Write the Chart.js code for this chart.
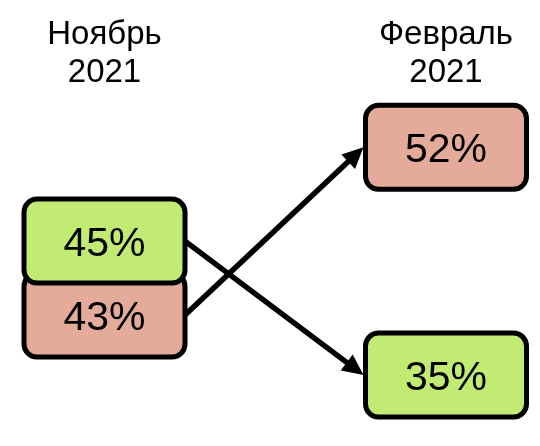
<!DOCTYPE html>
<html>
<head>
<meta charset="utf-8">
<script src="https://cdn.jsdelivr.net/npm/chart.js@4.4.1/dist/chart.umd.min.js"></script>
<style>
  html, body { margin: 0; padding: 0; background: #fff; }
  #wrap { width: 540px; height: 446px; }
</style>
</head>
<body>
<div id="wrap"><canvas id="chart"></canvas></div>
<script>
// --- DATA ---
const periods = [['Ноябрь', '2021'], ['Февраль', '2021']];
const pinkValues = [43, 52];
const greenValues = [45, 35];

const pinkColor = '#E4AB9A';
const greenColor = '#C2EB73';

const BOX_W = 161;
const BOX_H = 84;
const MIN_GAP = 74;   // boxes in one column may overlap a little, not more

function drawArrow(ctx, x1, y1, x2, y2) {
    const ang = Math.atan2(y2 - y1, x2 - x1);
    const headLen = 21, headHalf = 10;
    ctx.save();
    ctx.strokeStyle = '#000';
    ctx.fillStyle = '#000';
    ctx.lineWidth = 5.5;
    ctx.beginPath();
    ctx.moveTo(x1, y1);
    ctx.lineTo(x2 - Math.cos(ang) * (headLen - 2), y2 - Math.sin(ang) * (headLen - 2));
    ctx.stroke();
    ctx.beginPath();
    ctx.moveTo(x2, y2);
    ctx.lineTo(x2 - headLen * Math.cos(ang) + headHalf * Math.sin(ang),
               y2 - headLen * Math.sin(ang) - headHalf * Math.cos(ang));
    ctx.lineTo(x2 - headLen * Math.cos(ang) - headHalf * Math.sin(ang),
               y2 - headLen * Math.sin(ang) + headHalf * Math.cos(ang));
    ctx.closePath();
    ctx.fill();
    ctx.restore();
}

const boxPlugin = {
    id: 'boxes',
    afterDatasetsDraw(chart) {
        const ctx = chart.ctx;
        const boxes = [];
        chart.data.datasets.forEach((ds, di) => {
            chart.getDatasetMeta(di).data.forEach((pt, i) => {
                boxes.push({ x: pt.x, y: pt.y, col: i, ds: di, value: ds.data[i], color: ds.backgroundColor });
            });
        });

        // empurra para baixo as caixas que se sobrepõem na mesma coluna
        periods.forEach((p, col) => {
            const inCol = boxes.filter(b => b.col === col).sort((a, b) => a.y - b.y);
            for (let k = 1; k < inCol.length; k++) {
                if (inCol[k].y - inCol[k - 1].y < MIN_GAP) inCol[k].y = inCol[k - 1].y + MIN_GAP;
            }
        });

        // setas
        chart.data.datasets.forEach((ds, di) => {
            const from = boxes.find(b => b.ds === di && b.col === 0);
            const to = boxes.find(b => b.ds === di && b.col === 1);
            drawArrow(ctx, from.x + BOX_W / 2, from.y, to.x - BOX_W / 2 - 2, to.y);
        });

        // caixas: a de baixo primeiro, a de cima fica por cima
        boxes.sort((a, b) => b.y - a.y).forEach(b => {
            ctx.save();
            ctx.beginPath();
            ctx.roundRect(b.x - BOX_W / 2, b.y - BOX_H / 2, BOX_W, BOX_H, 13);
            ctx.fillStyle = b.color;
            ctx.fill();
            ctx.lineWidth = 5;
            ctx.strokeStyle = '#000';
            ctx.stroke();
            ctx.fillStyle = '#000';
            ctx.font = '41px "Liberation Sans", Arial, sans-serif';
            ctx.textAlign = 'center';
            ctx.textBaseline = 'alphabetic';
            ctx.fillText(b.value + '%', b.x, b.y + 14.5);
            ctx.restore();
        });
    }
};

const chart = new Chart(document.getElementById('chart'), {
    type: 'line',
    data: {
        labels: periods,
        datasets: [
            { data: pinkValues, backgroundColor: pinkColor, showLine: false, pointRadius: 0 },
            { data: greenValues, backgroundColor: greenColor, showLine: false, pointRadius: 0 }
        ]
    },
    options: {
        responsive: true,
        maintainAspectRatio: false,
        animation: false,
        layout: { padding: { left: 104.5, right: 94, top: 16.5, bottom: 12 } },
        plugins: { legend: { display: false }, tooltip: { enabled: false } },
        scales: {
            x: {
                position: 'top',
                offset: false,
                grid: { display: false, drawTicks: false },
                border: { display: false },
                ticks: {
                    padding: 0,
                    color: '#000',
                    font: { family: '"Liberation Sans", Arial, sans-serif', size: 33, lineHeight: 1.13 }
                }
            },
            y: { display: false, min: 30.6, max: 56.2 }
        }
    },
    plugins: [boxPlugin]
});
</script>
</body>
</html>
